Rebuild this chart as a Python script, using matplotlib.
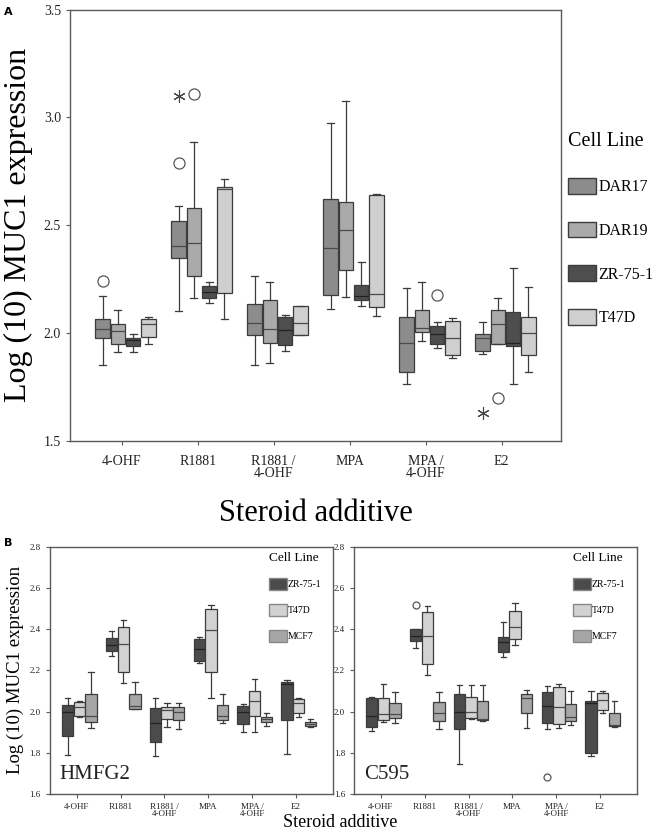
import matplotlib
matplotlib.use("Agg")
import matplotlib.pyplot as plt
from matplotlib.patches import Patch

plt.rcParams["font.family"] = ["Liberation Serif", "DejaVu Serif"]

# ── data ────
CATS = ["4-OHF", "R1881", "R1881 /\n4-OHF", "MPA", "MPA /\n4-OHF", "E2"]

# panel A: (whisker low, Q1, median, Q3, whisker high) per category
A_LINES = ["DAR17", "DAR19", "ZR-75-1", "T47D"]
A_DAR17 = [(1.85, 1.974, 2.016, 2.065, 2.171), (2.103, 2.347, 2.403, 2.517, 2.589),
           (1.852, 1.989, 2.047, 2.134, 2.266), (2.11, 2.178, 2.392, 2.62, 2.975),
           (1.764, 1.820, 1.953, 2.075, 2.21), (1.904, 1.918, 1.974, 1.995, 2.051)]
A_DAR19 = [(1.910, 1.949, 2.008, 2.042, 2.107), (2.160, 2.265, 2.419, 2.577, 2.885),
           (1.859, 1.953, 2.019, 2.154, 2.236), (2.166, 2.291, 2.475, 2.609, 3.075),
           (1.963, 2.006, 2.023, 2.107, 2.236), (1.949, 1.949, 2.042, 2.107, 2.161)]
A_ZR = [(1.910, 1.938, 1.966, 1.974, 1.997), (2.140, 2.164, 2.190, 2.216, 2.236),
        (1.915, 1.944, 2.014, 2.073, 2.082), (2.123, 2.152, 2.172, 2.220, 2.328),
        (1.930, 1.949, 1.997, 2.033, 2.051), (1.764, 1.941, 1.952, 2.098, 2.30)]
A_T47D = [(1.949, 1.981, 2.042, 2.065, 2.075), (2.066, 2.184, 2.666, 2.678, 2.716),
          (1.991, 1.991, 2.047, 2.123, 2.126), (2.078, 2.118, 2.179, 2.640, 2.644),
          (1.884, 1.896, 1.977, 2.057, 2.070), (1.817, 1.896, 2.000, 2.075, 2.213)]
# outliers: (series index, category index, value)
A_CIRCLES = [(0, 0, 2.242), (0, 1, 2.787), (1, 1, 3.108), (2, 4, 2.175), (1, 5, 1.697)]
A_STARS = [(0, 1, 3.099), (0, 5, 1.63)]

# panel B
B_LINES = ["ZR-75-1", "T47D", "MCF7"]
H_ZR = [(1.788, 1.883, 1.999, 2.032, 2.064), (2.271, 2.295, 2.323, 2.359, 2.389),
        (1.784, 1.852, 1.944, 2.016, 2.064), (2.237, 2.245, 2.302, 2.350, 2.360),
        (1.902, 1.940, 1.999, 2.027, 2.035), (1.794, 1.959, 2.135, 2.145, 2.155)]
H_T47D = [(1.972, 1.980, 2.024, 2.048, 2.053), (2.137, 2.194, 2.326, 2.412, 2.444),
          (1.927, 1.966, 2.006, 2.024, 2.040), (2.064, 2.190, 2.397, 2.498, 2.517),
          (1.902, 1.978, 2.050, 2.101, 2.156), (1.972, 1.991, 2.040, 2.061, 2.064)]
H_MCF7 = [(1.919, 1.948, 1.978, 2.084, 2.190), (2.011, 2.014, 2.027, 2.084, 2.142),
          (1.914, 1.957, 1.999, 2.020, 2.040), (1.943, 1.959, 1.978, 2.032, 2.084),
          (1.930, 1.948, 1.964, 1.975, 1.995), (1.923, 1.930, 1.940, 1.948, 1.962)]
H_CIRCLES = []

C_ZR = [(1.906, 1.923, 1.978, 2.067, 2.069), (2.307, 2.342, 2.367, 2.399, 2.399),
        (1.746, 1.917, 1.996, 2.084, 2.129), (2.266, 2.291, 2.339, 2.363, 2.436),
        (1.914, 1.943, 2.027, 2.095, 2.124), (1.784, 1.800, 2.040, 2.051, 2.098)]
C_T47D = [(1.948, 1.959, 1.988, 2.067, 2.134), (2.176, 2.229, 2.367, 2.481, 2.514),
          (1.962, 1.967, 1.996, 2.069, 2.129), (2.322, 2.350, 2.412, 2.486, 2.528),
          (1.922, 1.940, 2.024, 2.121, 2.132), (1.991, 2.008, 2.056, 2.089, 2.102)]
C_MCF7 = [(1.946, 1.967, 1.988, 2.040, 2.097), (1.914, 1.956, 1.993, 2.045, 2.097),
          (1.954, 1.959, 1.964, 2.050, 2.129), (1.919, 1.991, 2.064, 2.084, 2.105),
          (1.935, 1.954, 1.972, 2.035, 2.101), (1.927, 1.930, 1.935, 1.995, 2.052)]
C_CIRCLES = [(0, 1, 2.517), (0, 4, 1.684)]

A_COLORS = ["#8c8c8c", "#aaaaaa", "#4e4e4e", "#cfcfcf"]
B_COLORS = ["#4b4b4b", "#d2d2d2", "#a6a6a6"]
EDGE = "#3c3c3c"
SPINE = "#5a5a5a"


def draw_boxes(ax, series, colors, width, shift, circles, stars=(), fsize=6):
    n = len(series)
    for s, (vals, col) in enumerate(zip(series, colors)):
        offs = (s - (n - 1) / 2) * width
        stats = []
        for lo, q1, med, q3, hi in vals:
            stats.append(dict(whislo=lo, q1=q1, med=med, q3=q3, whishi=hi, fliers=[]))
        pos = [i + shift + offs for i in range(len(vals))]
        medc = "#222222" if col in ("#4e4e4e", "#4b4b4b") else "#4a4a4a"
        ax.bxp(stats, positions=pos, widths=width * 0.97, patch_artist=True,
               showfliers=False, capwidths=width * 0.45, manage_ticks=False,
               boxprops=dict(facecolor=col, edgecolor=EDGE, linewidth=0.9),
               medianprops=dict(color=medc, linewidth=0.9),
               whiskerprops=dict(color=EDGE, linewidth=0.9),
               capprops=dict(color=EDGE, linewidth=0.9))
    for s, c, v in circles:
        x = c + shift + (s - (n - 1) / 2) * width
        ax.plot(x, v, "o", mfc="none", mec="#555555", ms=fsize, mew=0.9)
    for s, c, v in stars:
        x = c + shift + (s - (n - 1) / 2) * width
        ax.plot(x, v, marker=(6, 2, 0), color="#444444", ms=fsize + 1, mew=0.8)


def style(ax, tick_fs, pad):
    for sp in ax.spines.values():
        sp.set_edgecolor(SPINE)
        sp.set_linewidth(1.0)
    ax.tick_params(axis="both", colors=SPINE, labelcolor="#222222",
                   labelsize=tick_fs, length=3, width=0.8)
    ax.tick_params(axis="x", pad=pad)
    ax.set_xticks(range(len(CATS)))
    ax.set_xticklabels(CATS, linespacing=0.9)


fig = plt.figure(figsize=(6.61, 8.34), dpi=100)

# ── panel A ────
ax = fig.add_axes([0.1059, 0.4716, 0.7428, 0.517])
draw_boxes(ax, [A_DAR17, A_DAR19, A_ZR, A_T47D], A_COLORS, 0.2, 0.05,
           A_CIRCLES, A_STARS, fsize=8)
style(ax, 10, 7)
ax.set_xlim(-0.68, 5.78)
ax.set_ylim(1.5, 3.5)
ax.set_yticks([1.5, 2.0, 2.5, 3.0, 3.5])
ax.set_yticklabels(["1.5", "2.0", "2.5", "3.0", "3.5"])
ax.set_ylabel("Log (10) MUC1 expression", fontsize=23, labelpad=8)
ax.set_xlabel("Steroid additive", fontsize=22, labelpad=14)
handles = [Patch(facecolor=c, edgecolor=EDGE, label=l) for c, l in zip(A_COLORS, A_LINES)]
fig.legend(handles=handles, title="Cell Line", loc="upper left",
           bbox_to_anchor=(0.855, 0.845), frameon=False, fontsize=11.5,
           title_fontsize=14.5, handlelength=1.75, handleheight=1.15,
           labelspacing=1.65, handletextpad=0.15, borderaxespad=0,
           borderpad=0.2, alignment="left")
fig.text(0.006, 0.982, "A", fontsize=8, fontweight="bold", family="DejaVu Sans")

# ── panel B ────
panels = [(0.0756, [H_ZR, H_T47D, H_MCF7], H_CIRCLES, "HMFG2"),
          (0.5356, [C_ZR, C_T47D, C_MCF7], C_CIRCLES, "C595")]
for left, series, circ, name in panels:
    bx = fig.add_axes([left, 0.048, 0.428, 0.2965])
    draw_boxes(bx, series, B_COLORS, 0.266, 0.06, circ, fsize=5)
    style(bx, 6.5, 3.5)
    bx.set_xlim(-0.61, 5.84)
    bx.set_ylim(1.6, 2.8)
    bx.set_yticks([1.6, 1.8, 2.0, 2.2, 2.4, 2.6, 2.8])
    bx.set_yticklabels(["1.6", "1.8", "2.0", "2.2", "2.4", "2.6", "2.8"])
    bx.text(0.035, 0.06, name, transform=bx.transAxes, fontsize=15, color="#222222")
    hb = [Patch(facecolor=c, edgecolor="#888888", label=l) for c, l in zip(B_COLORS, B_LINES)]
    bx.legend(handles=hb, title="Cell Line", loc="upper right", frameon=False,
              fontsize=7, title_fontsize=9.5, handlelength=1.8, handleheight=1.5,
              labelspacing=1.45, handletextpad=0.1, borderaxespad=0.5,
              bbox_to_anchor=(0.99, 1.015), alignment="left")
    if name == "HMFG2":
        bx.set_ylabel("Log (10) MUC1 expression", fontsize=13.5, labelpad=4)

fig.text(0.515, 0.003, "Steroid additive", ha="center", va="bottom", fontsize=13)
fig.text(0.006, 0.345, "B", fontsize=8, fontweight="bold", family="DejaVu Sans")

fig.savefig("out.png", dpi=100, facecolor="white")
